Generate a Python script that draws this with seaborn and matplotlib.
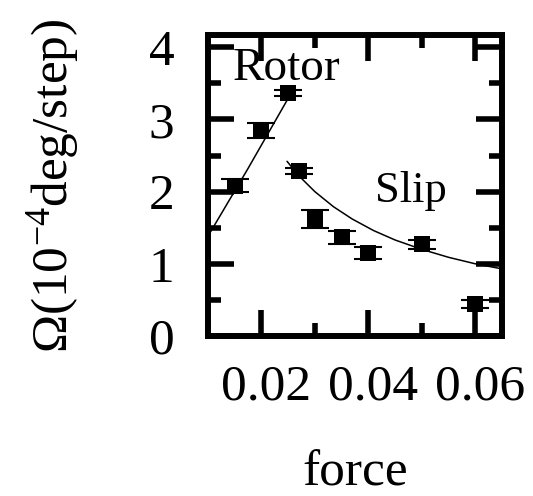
import matplotlib
matplotlib.use("Agg")
import matplotlib.pyplot as plt
from matplotlib.ticker import MultipleLocator
from matplotlib.transforms import ScaledTranslation
import numpy as np
import pandas as pd
import seaborn as sns

# Measured angular velocity vs applied force
force = [0.015, 0.020, 0.025, 0.027, 0.030, 0.035, 0.040, 0.050, 0.060]
omega = [2.08, 2.85, 3.37, 2.29, 1.62, 1.37, 1.15, 1.27, 0.44]
omega_err = [0.09, 0.10, 0.04, 0.04, 0.125, 0.09, 0.08, 0.065, 0.055]

# Guide curves for the two regimes
rotor_f = [0.0100, 0.0175, 0.0253]
rotor_w = [1.38, 2.32, 3.33]
slip_f = [0.0248, 0.027, 0.030, 0.0335, 0.037, 0.041, 0.045, 0.050, 0.055, 0.060, 0.065]
slip_w = [2.42, 2.22, 2.00, 1.79, 1.62, 1.46, 1.33, 1.20, 1.09, 1.00, 0.93]

x_ticks = [0.02, 0.04, 0.06]
x_tick_labels = ["0.02", "0.04", "0.06"]
y_ticks = [0, 1, 2, 3, 4]

sns.set_theme(style="ticks")
plt.rcParams["font.family"] = ["Liberation Serif", "DejaVu Serif"]
plt.rcParams["mathtext.fontset"] = "custom"
plt.rcParams["mathtext.rm"] = "Liberation Serif"
plt.rcParams["mathtext.it"] = "Liberation Serif:italic"

FS = 37

fig = plt.figure(figsize=(5.33, 4.96), dpi=100)
ax = fig.add_axes([0.390, 0.3226, 0.552, 0.6068])

data = pd.DataFrame({"force": force, "omega": omega})
rotor = pd.DataFrame({"force": rotor_f, "omega": rotor_w})
slip = pd.DataFrame({"force": slip_f, "omega": slip_w})

sns.lineplot(data=rotor, x="force", y="omega", estimator=None, sort=False,
             color="black", linewidth=1.1, ax=ax, zorder=2)
sns.lineplot(data=slip, x="force", y="omega", estimator=None, sort=False,
             color="black", linewidth=1.1, ax=ax, zorder=2)
ax.errorbar(force, omega, yerr=omega_err, fmt="none", ecolor="black",
            elinewidth=1.5, capsize=10, capthick=1.5, zorder=3)
sns.scatterplot(data=data, x="force", y="omega", marker="s", s=125,
                color="black", linewidth=0, ax=ax, zorder=4)

ax.text(0.01466, 3.55, "Rotor", fontsize=34, color="black", ha="left", va="baseline")
ax.text(0.0413, 1.85, "Slip", fontsize=32, color="black", ha="left", va="baseline")

ax.set_xlim(0.01, 0.065)
ax.set_ylim(0, 4.17)
ax.set_xticks(x_ticks)
ax.set_xticklabels(x_tick_labels)
ax.set_yticks(y_ticks)
ax.xaxis.set_minor_locator(MultipleLocator(0.01))
ax.yaxis.set_minor_locator(MultipleLocator(0.5))

ax.tick_params(which="both", direction="in", top=True, right=True,
               width=4, color="black", labelsize=FS, labelcolor="black")
ax.tick_params(which="major", length=19)
ax.tick_params(axis="x", which="major", pad=20)
ax.tick_params(axis="y", which="major", pad=24)
ax.tick_params(which="minor", length=9.5)
for sp in ax.spines.values():
    sp.set_linewidth(4.3)
    sp.set_color("black")

# nudge x tick labels slightly to the right
shift = ScaledTranslation(5 / 100, 0, fig.dpi_scale_trans)
for lbl in ax.get_xticklabels():
    lbl.set_transform(lbl.get_transform() + shift)

ax.set_xlabel("force", fontsize=FS, color="black")
ax.set_ylabel(r"$\Omega$(10$^{-4}$deg/step)", fontsize=FS, color="black")
ax.xaxis.set_label_coords(0.5, -0.38)
ax.yaxis.set_label_coords(-0.43, 0.5)

fig.savefig("out.png", dpi=100, facecolor="white")
